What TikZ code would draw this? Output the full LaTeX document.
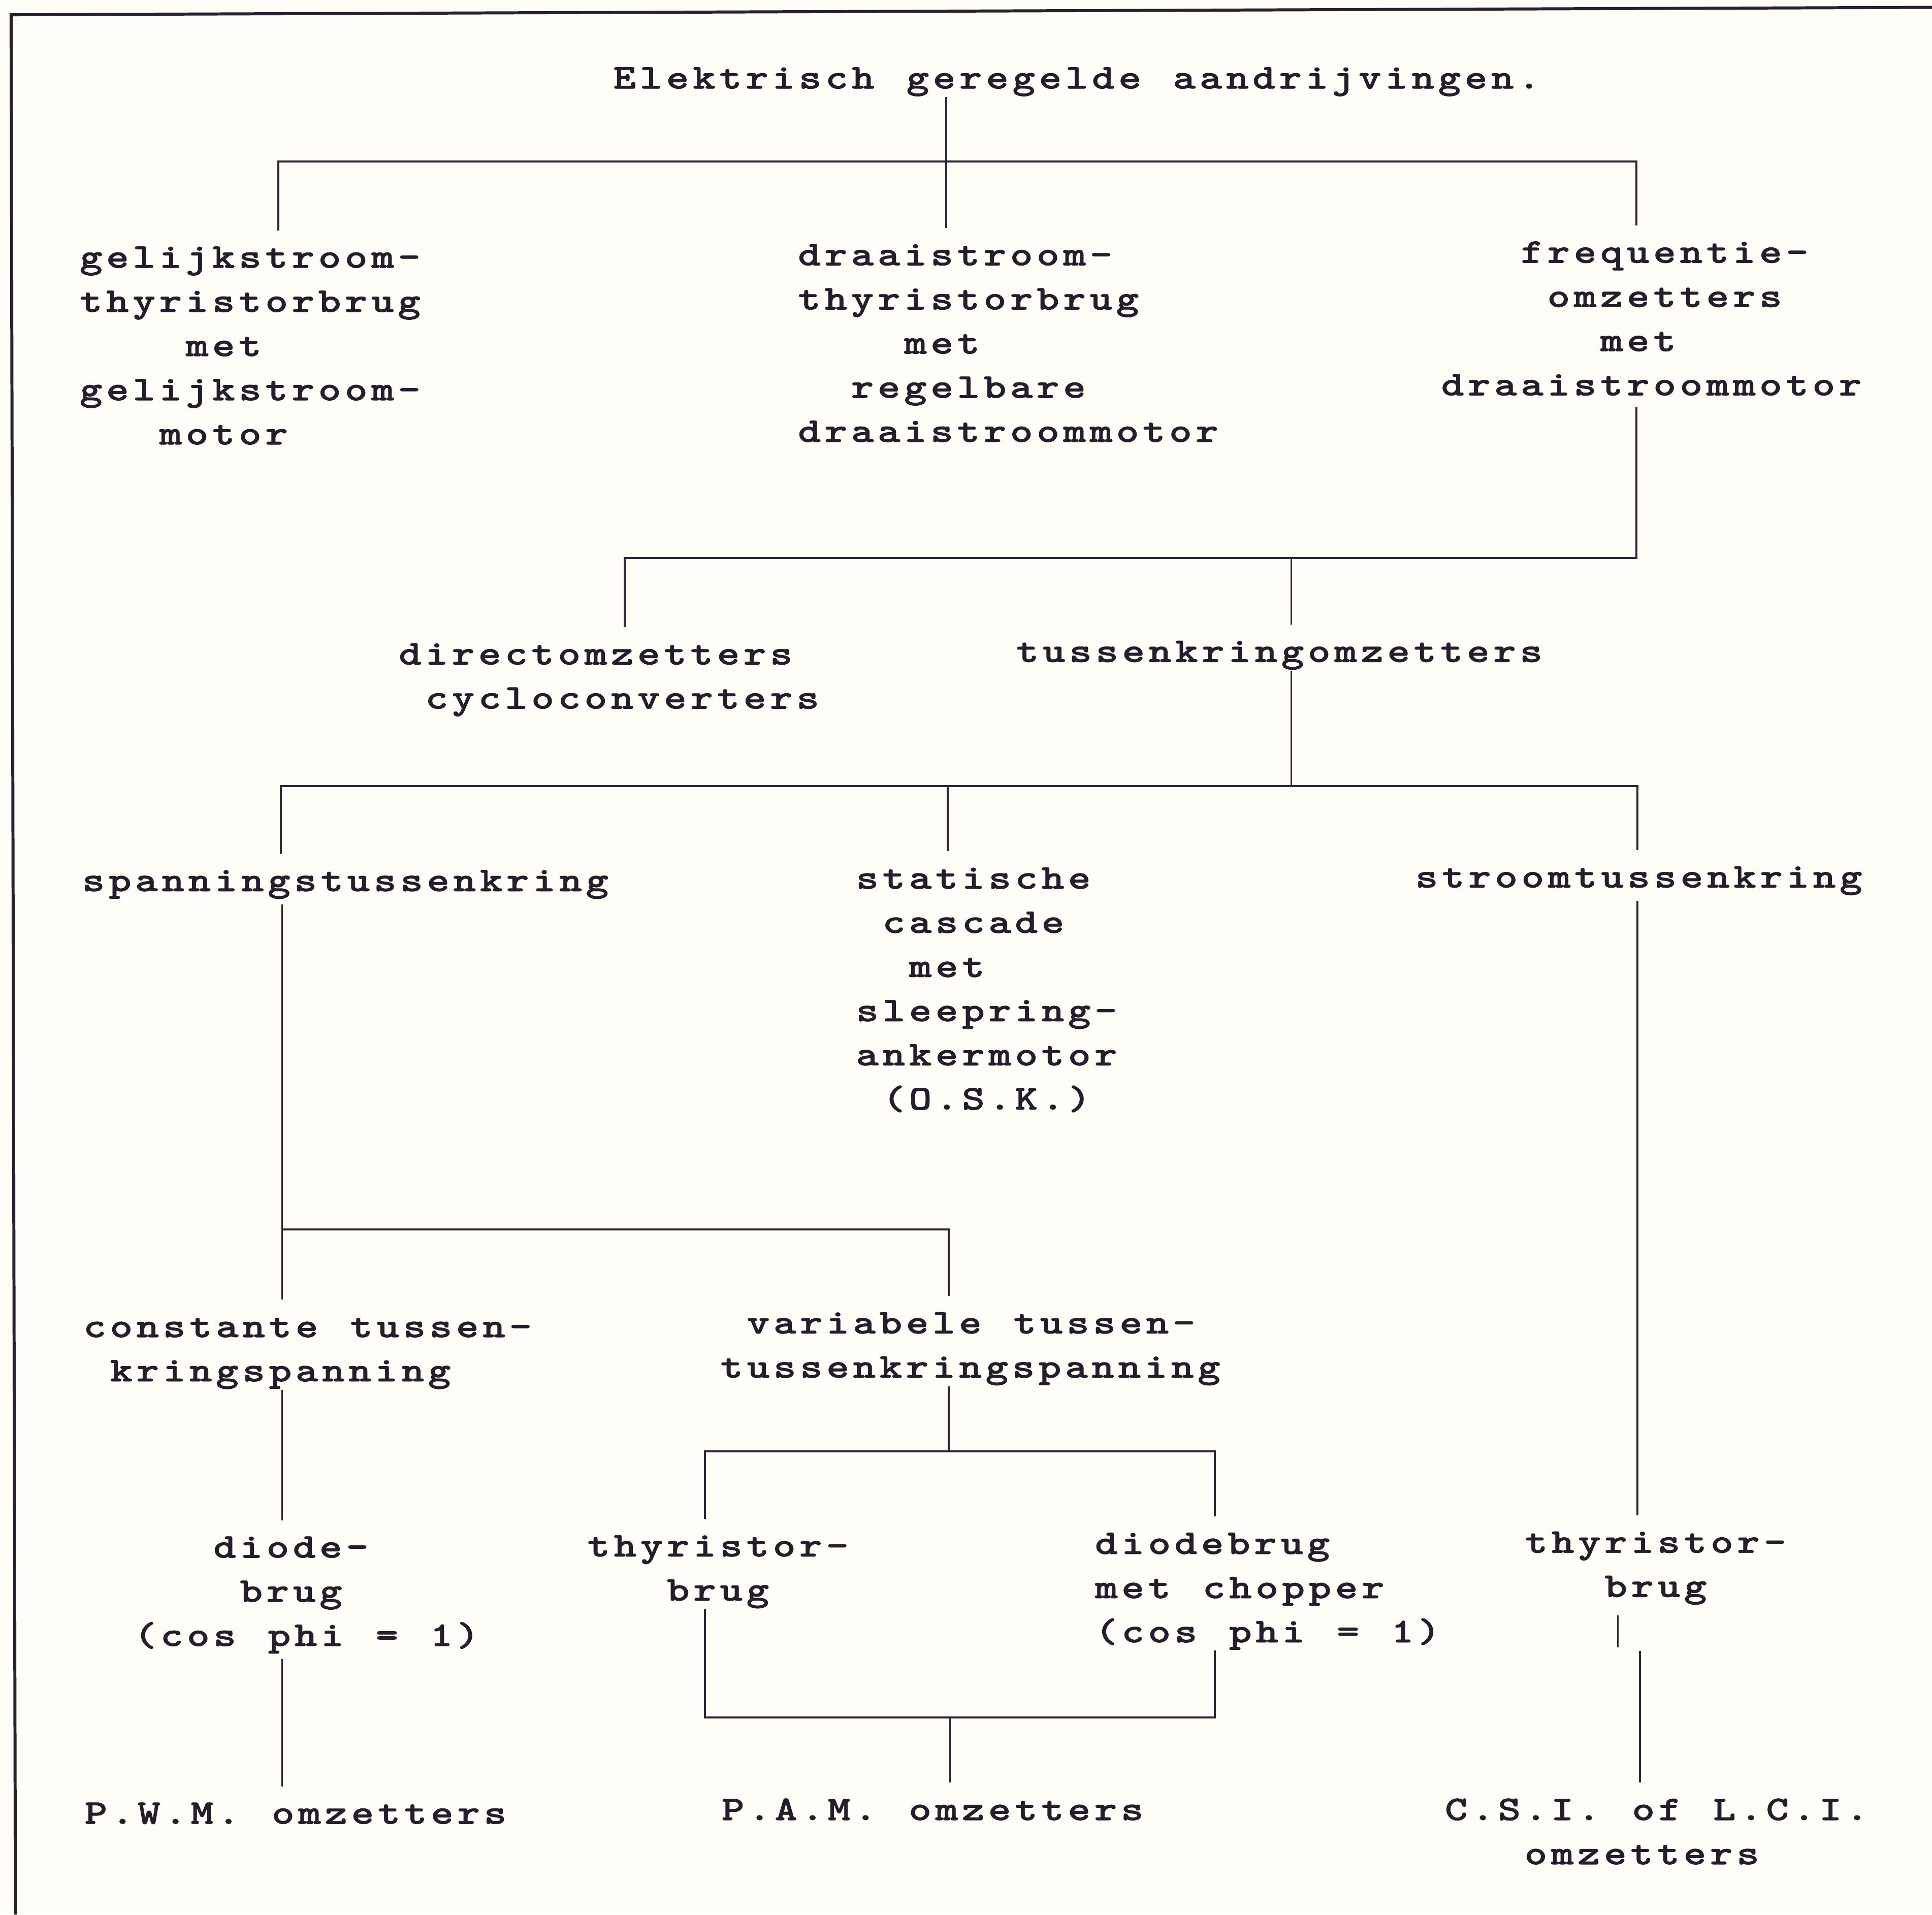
\documentclass[tikz,border=0pt]{standalone}
\usepackage{fontspec}
\usepackage{tikz}
\usetikzlibrary{calc}
\newfontfamily\treefont{lmmonolt10-bold.otf}[FakeStretch=1.25,FakeBold=1.2,LetterSpace=10.9,WordSpace=1.2]
\definecolor{paper}{RGB}{254,253,248}
\definecolor{ink}{RGB}{36,30,44}
\definecolor{wire}{RGB}{45,38,52}
\newlength\chpitch
\setlength\chpitch{6.12pt}
\newcommand\indt[1]{\hspace*{#1\chpitch}}
\newcommand\lnstrut{\rule{0pt}{6.16pt}}
\tikzset{
  item/.style={anchor=north west,inner sep=0pt,align=left,text=ink,
    font=\treefont\fontsize{8}{10.2}\selectfont},
  tree/.style={draw=wire,line width=0.45pt},
  frame/.style={draw=wire!90!black,line width=0.7pt},
}
\begin{document}
\begin{tikzpicture}
  \fill[paper] (0,0) rectangle (15.68,-15.54);
  \useasboundingbox (0,0) rectangle (15.68,-15.54);
  \draw[frame] (0.125,-15.54) -- (0.09,-0.12) -- (15.68,-0.06);
  % texts
  \node[item] (title) at (4.97,-0.495) {\lnstrut Elektrisch geregelde aandrijvingen.};
  \node[item] (a1) at (0.64,-1.95) {\lnstrut gelijkstroom-\\thyristorbrug\\\indt{4}met\\gelijkstroom-\\\indt{3}motor};
  \node[item] (a2) at (6.47,-1.93) {\lnstrut draaistroom-\\thyristorbrug\\\indt{4}met\\\indt{2}regelbare\\draaistroommotor};
  \node[item] (a3) at (11.69,-1.91) {\lnstrut\indt{3}frequentie-\\\indt{4}omzetters\\\indt{6}met\\draaistroommotor};
  \node[item] (b1) at (3.23,-5.17) {\lnstrut directomzetters\\\indt{1}cycloconverters};
  \node[item] (b2) at (8.24,-5.15) {\lnstrut tussenkringomzetters};
  \node[item] (c1) at (0.66,-7.01) {\lnstrut spanningstussenkring};
  \node[item] (c2) at (6.94,-6.99) {\lnstrut statische\\\indt{1}cascade\\\indt{2}met\\sleepring-\\ankermotor\\\indt{1}(O.S.K.)};
  \node[item] (c3) at (11.48,-6.98) {\lnstrut stroomtussenkring};
  \node[item] (d1) at (0.67,-10.63) {\lnstrut constante tussen-\\\indt{1}kringspanning};
  \node[item] (d2) at (5.84,-10.60) {\lnstrut\indt{1}variabele tussen-\\tussenkringspanning};
  \node[item] (e1) at (1.08,-12.42) {\lnstrut\indt{3}diode-\\\indt{4}brug\\(cos phi = 1)};
  \node[item] (e2) at (4.76,-12.41) {\lnstrut thyristor-\\\indt{3}brug};
  \node[item] (e3) at (8.88,-12.39) {\lnstrut diodebrug\\met chopper\\(cos phi = 1)};
  \node[item] (e4) at (12.37,-12.38) {\lnstrut thyristor-\\\indt{3}brug};
  \node[item] (f1) at (0.68,-14.58) {\lnstrut P.W.M. omzetters};
  \node[item] (f2) at (5.85,-14.55) {\lnstrut P.A.M. omzetters};
  \node[item] (f3) at (11.72,-14.55) {\lnstrut C.S.I. of L.C.I.\\\indt{3}omzetters};
  % junctions
  \coordinate (ka) at (2.26,-1.31); \coordinate (kb) at (7.68,-1.31); \coordinate (kc) at (13.28,-1.31);
  \coordinate (kd) at (5.07,-4.53); \coordinate (ke) at (10.48,-4.53); \coordinate (kf) at (13.28,-4.53);
  \coordinate (kg) at (2.28,-6.38); \coordinate (kh) at (7.69,-6.38); \coordinate (ki) at (10.48,-6.38);
  \coordinate (kj) at (13.29,-6.38);
  \coordinate (kk) at (2.29,-9.98); \coordinate (kl) at (7.70,-9.98);
  \coordinate (km) at (5.72,-11.78); \coordinate (kn) at (7.70,-11.78); \coordinate (ko) at (9.86,-11.78);
  \coordinate (kp) at (5.72,-13.94); \coordinate (kq) at (7.71,-13.94); \coordinate (kr) at (9.86,-13.94);
  \coordinate (ks) at (13.13,-13.37); \coordinate (kt) at (13.31,-13.40);
  % connectors
  \draw[tree,shorten <=0.8mm,shorten >=0.8mm] (a1.north -| ka) -- (ka) -- (kc) -- (a3.north -| kc);
  \draw[tree,shorten >=0.8mm] (title.south -| kb) -- (a2.north -| kb);
  \draw[tree,shorten <=0.9mm,shorten >=0.8mm] (a3.south -| kf) -- (kf) -- (kd) -- (b1.north -| kd);
  \draw[tree,shorten >=0.8mm] (ke) -- (b2.north -| ke);
  \draw[tree] (b2.south -| ki) -- (ki);
  \draw[tree,shorten <=0.8mm,shorten >=0.8mm] (c1.north -| kg) -- (kg) -- (kj) -- (c3.north -| kj);
  \draw[tree,shorten >=0.8mm] (kh) -- (c2.north -| kh);
  \draw[tree,shorten <=0.4mm,shorten >=0.8mm] (c1.south -| kk) -- (d1.north -| kk);
  \draw[tree,shorten >=0.8mm] (kk) -- (kl) -- (d2.north -| kl);
  \draw[tree,shorten <=0.4mm,shorten >=0.8mm] (c3.south -| kj) -- (e4.north -| kj);
  \draw[tree,shorten >=0.8mm] (d1.south -| kk) -- (e1.north -| kk);
  \draw[tree] (d2.south -| kn) -- (kn);
  \draw[tree,shorten <=0.8mm,shorten >=0.8mm] (e2.north -| km) -- (km) -- (ko) -- (e3.north -| ko);
  \draw[tree,shorten <=0.4mm,shorten >=0.8mm] (e1.south -| kk) -- (f1.north -| kk);
  \draw[tree] (e2.south -| kp) -- (kp) -- (kr) -- (e3.south -| kr);
  \draw[tree,shorten >=0.8mm] (kq) -- (f2.north -| kq);
  \draw[tree,shorten <=0.8mm] (e4.south -| ks) -- (ks);
  \draw[tree,shorten >=0.8mm] (kt) -- (f3.north -| kt);
\end{tikzpicture}
\end{document}
